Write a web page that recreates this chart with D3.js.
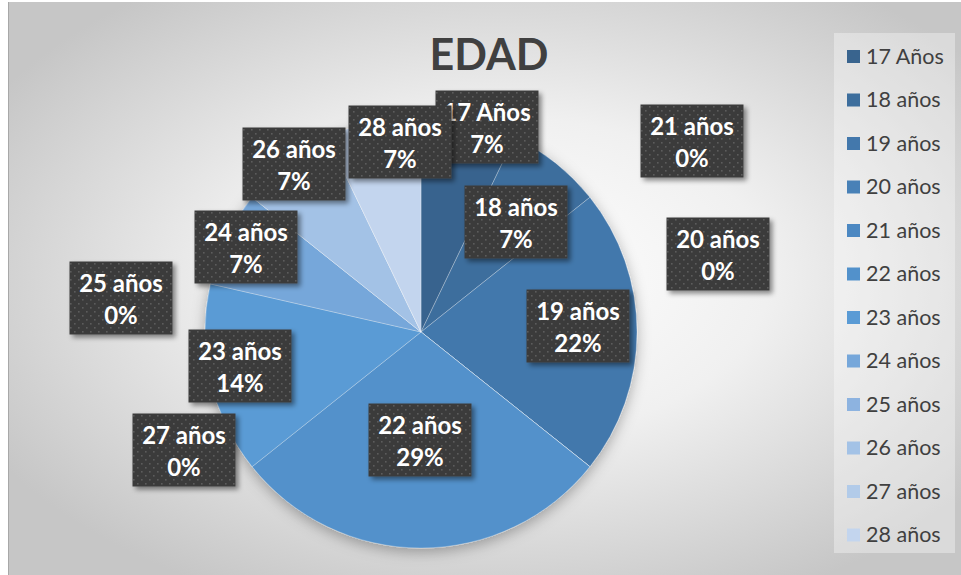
<html>
<meta charset="utf-8">
<head>
<script src="https://d3js.org/d3.v7.min.js"></script>
<style>
  html, body {
    margin:0;
    padding:0;
    background:#ffffff;
  }
</style>
</head>
<body>

<svg class="svg"></svg>

<script>

// data
const ages = ["17 Años","18 años","19 años","20 años","21 años","22 años",
              "23 años","24 años","25 años","26 años","27 años","28 años"]
const counts = [1,1,3,0,0,4,2,1,0,1,0,1]
const pctLabels = ["7%","7%","22%","0%","0%","29%","14%","7%","0%","7%","0%","7%"]
const colors = ["#39648e","#3d6e9d","#4378ac","#4881b7","#4c88c2","#5291cb",
                "#5a9bd5","#76a7da","#8db3e0","#a3c2e6","#b2cbe9","#c3d5ee"]

// where the label boxes were dragged to (box centres)
const labelPos = [[487,127],[516,222],[578,326],[718,254],[692,141],[420,440],
                  [240,366],[246,247],[121,298],[294,164],[184,450],[400,142]]

const W = 961, H = 575
const pieC = {x:421, y:332}, radius = 216

var svg = d3.select("svg")
  .attr("width", W)
  .attr("height", H)

const defs = svg.append("defs")

// chart background: light grey radial fade
const bg = defs.append("radialGradient")
  .attr("id","bg")
  .attr("cx","52%").attr("cy","48%").attr("r","62%")
bg.append("stop").attr("offset","0%").attr("stop-color","#ffffff")
bg.append("stop").attr("offset","45%").attr("stop-color","#f0f0f0")
bg.append("stop").attr("offset","100%").attr("stop-color","#c6c6c6")

// dotted dark fill for the data labels
const pat = defs.append("pattern")
  .attr("id","dots")
  .attr("patternUnits","userSpaceOnUse")
  .attr("width",8).attr("height",8)
pat.append("rect").attr("width",8).attr("height",8).attr("fill","#3b3b3b")
pat.append("rect").attr("x",1).attr("y",1).attr("width",1.6).attr("height",1.6).attr("fill","#5c5c5c")
pat.append("rect").attr("x",5).attr("y",5).attr("width",1.6).attr("height",1.6).attr("fill","#5c5c5c")

const shadow = defs.append("filter").attr("id","shadow")
  .attr("x","-20%").attr("y","-20%").attr("width","150%").attr("height","150%")
shadow.append("feDropShadow").attr("dx",3).attr("dy",3).attr("stdDeviation",2.5)
  .attr("flood-color","#000").attr("flood-opacity",0.45)

const pieShadow = defs.append("filter").attr("id","pieShadow")
  .attr("x","-20%").attr("y","-20%").attr("width","140%").attr("height","140%")
pieShadow.append("feDropShadow").attr("dx",0).attr("dy",4).attr("stdDeviation",7)
  .attr("flood-color","#000").attr("flood-opacity",0.3)

svg.append("rect")
  .attr("x",8).attr("y",2)
  .attr("width",W-8).attr("height",H-2)
  .attr("fill","url(#bg)")

svg.append("line")
  .attr("x1",8.5).attr("x2",8.5).attr("y1",2).attr("y2",H)
  .attr("stroke","#a8a8a8")

//title
svg.append("text")
  .attr("x",489).attr("y",70)
  .text("EDAD")
  .style("font-family","Lato")
  .style("font-weight","bold")
  .style("font-size","43px")
  .style("fill","#404040")
  .style("text-anchor","middle")

// pie
const pie = d3.pie().sort(null).value(d => d)
const arcs = pie(counts)
const arc = d3.arc().innerRadius(0).outerRadius(radius)

const pieG = svg.append("g")
  .attr("transform","translate("+pieC.x+","+pieC.y+")")
  .attr("filter","url(#pieShadow)")

pieG.selectAll("path")
  .data(arcs)
  .enter().append("path")
  .attr("d", arc)
  .attr("fill", (d,i) => colors[i])
  .attr("stroke","#ffffff")
  .attr("stroke-width",0.6)
  .attr("stroke-opacity",0.45)

// legend
const legend = svg.append("g")
legend.append("rect")
  .attr("x",834).attr("y",33)
  .attr("width",121).attr("height",520)
  .attr("fill","#ffffff").attr("fill-opacity",0.35)

const ly = d3.scalePoint().domain(ages).range([56.5,535])

legend.selectAll(".sw")
  .data(ages)
  .enter().append("rect")
  .attr("class","sw")
  .attr("x",847)
  .attr("y", d => ly(d)-6.5)
  .attr("width",13).attr("height",13)
  .attr("fill", (d,i) => colors[i])

legend.selectAll(".lt")
  .data(ages)
  .enter().append("text")
  .attr("class","lt")
  .attr("x",866)
  .attr("y", d => ly(d)+7)
  .text(d => d)
  .style("font-family","Lato")
  .style("font-size","21.5px")
  .style("fill","#404040")

// data labels
const lab = svg.append("g")
  .selectAll("g")
  .data(arcs)
  .enter().append("g")
  .attr("transform",(d,i) => "translate("+labelPos[i][0]+","+labelPos[i][1]+")")

lab.append("rect")
  .attr("x",-51.5).attr("y",-36.5)
  .attr("width",103).attr("height",73)
  .attr("fill","url(#dots)")
  .attr("filter","url(#shadow)")

lab.append("text")
  .attr("y",-6.5)
  .text((d,i) => ages[i])

lab.append("text")
  .attr("y",26)
  .text((d,i) => pctLabels[i])

lab.selectAll("text")
  .style("font-family","Lato")
  .style("font-weight","bold")
  .style("font-size","24px")
  .style("fill","#ffffff")
  .style("text-anchor","middle")

</script>
</body>
</html>
